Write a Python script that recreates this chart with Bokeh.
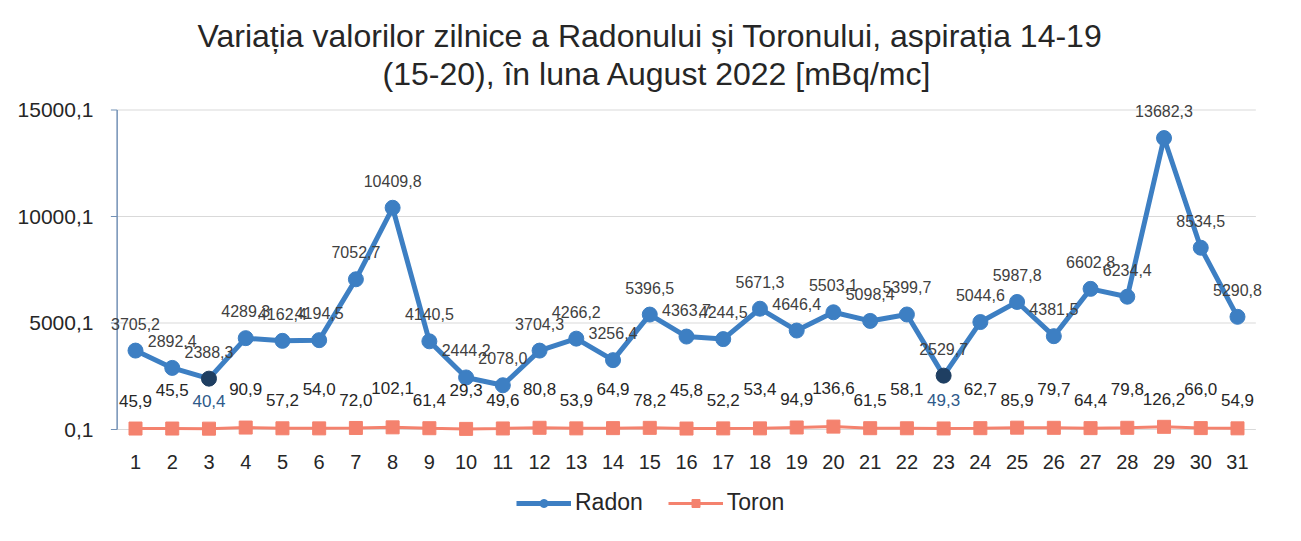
from bokeh.plotting import figure
from bokeh.models import (FixedTicker, Range1d, FactorRange, Legend, LegendItem,
                          ColumnDataSource, Title)
from bokeh.core.properties import value
from bokeh.embed import file_html
from bokeh.resources import INLINE

# ---------------- data ----------------
days = [str(i) for i in range(1, 32)]
radon = [3705.2, 2892.4, 2388.3, 4289.3, 4162.4, 4194.5, 7052.7, 10409.8, 4140.5, 2444.2,
         2078.0, 3704.3, 4266.2, 3256.4, 5396.5, 4363.7, 4244.5, 5671.3, 4646.4, 5503.1,
         5098.4, 5399.7, 2529.7, 5044.6, 5987.8, 4381.5, 6602.8, 6234.4, 13682.3, 8534.5,
         5290.8]
toron = [45.9, 45.5, 40.4, 90.9, 57.2, 54.0, 72.0, 102.1, 61.4, 29.3,
         49.6, 80.8, 53.9, 64.9, 78.2, 45.8, 52.2, 53.4, 94.9, 136.6,
         61.5, 58.1, 49.3, 62.7, 85.9, 79.7, 64.4, 79.8, 126.2, 66.0,
         54.9]
highlight_days = ["3", "23"]
y_ticks = [0.1, 5000.1, 10000.1, 15000.1]
y_tick_labels = ["0,1", "5000,1", "10000,1", "15000,1"]
title_lines = ["Variația valorilor zilnice a Radonului și Toronului, aspirația 14-19",
               "(15-20), în luna August 2022 [mBq/mc]"]
series_names = ["Radon", "Toron"]


def fmt(v):
    return f"{v:.1f}".replace(".", ",")


FONT = "Liberation Sans"
TEXT_C = "#262626"
AXIS_C = "#7391b5"
GRID_C = "#d9d9d9"
RADON_C = "#3d7fc3"
RADON_DARK = "#1f3f62"
TORON_C = "#f4826e"
Y_START, Y_END = -4882, 15634   # lower part of the frame holds the day labels and legend
PAD = 0.453  # extra room (in category widths) so edge labels are not clipped

n = len(days)
radon_src = ColumnDataSource(dict(
    x=days, y=radon, lab=[fmt(v) for v in radon],
    mc=[RADON_DARK if d in highlight_days else RADON_C for d in days]))
toron_src = ColumnDataSource(dict(
    x=days, y=toron, lab=[fmt(v) for v in toron],
    tc=["#2e5a8a" if d in highlight_days else TEXT_C for d in days],
    off=[-39 if i % 2 == 1 else -28 for i in range(n)]))

p = figure(x_range=FactorRange(factors=days, range_padding=PAD, range_padding_units="absolute"),
           y_range=Range1d(Y_START, Y_END), title=None,
           frame_width=1172, frame_height=437,
           min_border_left=100, min_border_right=21, min_border_top=96, min_border_bottom=0,
           output_backend="svg", toolbar_location=None)
p.outline_line_color = None
p.background_fill_color = "white"
p.border_fill_color = "white"

# title: two lines, second one closest to the plot
offsets = [97, 282]
standoffs = [-9, 9]
for i in (1, 0):
    p.add_layout(Title(text=title_lines[i], align="left", offset=offsets[i], text_font=FONT,
                       text_font_size="32px", text_font_style="normal", text_color=TEXT_C,
                       text_line_height=1.1, standoff=standoffs[i]), "above")

# grid lines and y-axis line drawn over the category span only
p.xgrid.grid_line_color = None
p.ygrid.grid_line_color = None
p.segment(x0=[0] * len(y_ticks), x1=[n] * len(y_ticks), y0=y_ticks, y1=y_ticks,
          line_color=GRID_C, line_width=1)
p.segment(x0=[-0.17] * len(y_ticks), x1=[0] * len(y_ticks), y0=y_ticks, y1=y_ticks,
          line_color=AXIS_C, line_width=1.2)
p.segment(x0=[0], x1=[0], y0=[y_ticks[0]], y1=[y_ticks[-1]], line_color=AXIS_C, line_width=1.5)

# y axis (labels only)
p.yaxis.ticker = FixedTicker(ticks=y_ticks)
p.yaxis.major_label_overrides = {t: l for t, l in zip(y_ticks, y_tick_labels)}
p.yaxis.axis_line_color = None
p.yaxis.major_tick_line_color = None
p.yaxis.minor_tick_line_color = None
p.yaxis.major_label_text_font = FONT
p.yaxis.major_label_text_font_size = "21px"
p.yaxis.major_label_text_color = TEXT_C
p.yaxis.major_label_standoff = 1

# x axis: category labels drawn just under the 0,1 line
p.xaxis.visible = False
p.text(x=days, y=[y_ticks[0]] * n, text=days, text_align="center", text_baseline="middle",
       y_offset=32, text_font=value(FONT), text_font_size="20px", text_color=TEXT_C)

# series
r_line = p.line("x", "y", source=radon_src, line_width=5, line_color=RADON_C)
r_pts = p.scatter("x", "y", source=radon_src, marker="circle", size=15,
                  fill_color="mc", line_color="mc")
t_line = p.line("x", "y", source=toron_src, line_width=3, line_color=TORON_C)
t_pts = p.scatter("x", "y", source=toron_src, marker="square", size=13,
                  fill_color=TORON_C, line_color=TORON_C)

# data labels
p.text("x", "y", text="lab", source=radon_src, text_align="center", text_baseline="middle",
       y_offset=-27, text_font=value(FONT), text_font_size="16px", text_color="#404040")
p.text("x", "y", text="lab", source=toron_src, text_align="center", text_baseline="middle",
       y_offset="off", text_font=value(FONT), text_font_size="17px", text_color="tc")

legend = Legend(items=[LegendItem(label=series_names[0], renderers=[r_line, r_pts]),
                       LegendItem(label=series_names[1], renderers=[t_line, t_pts])],
                orientation="horizontal", location=(416, 17))
legend.border_line_color = None
legend.background_fill_alpha = 0
legend.label_text_font = FONT
legend.label_text_font_size = "23px"
legend.label_text_color = TEXT_C
legend.glyph_width = 55
legend.label_standoff = 4
legend.spacing = 25
legend.padding = 6
legend.margin = 0
p.add_layout(legend, "center")

open("out.html", "w").write(file_html(p, INLINE))
